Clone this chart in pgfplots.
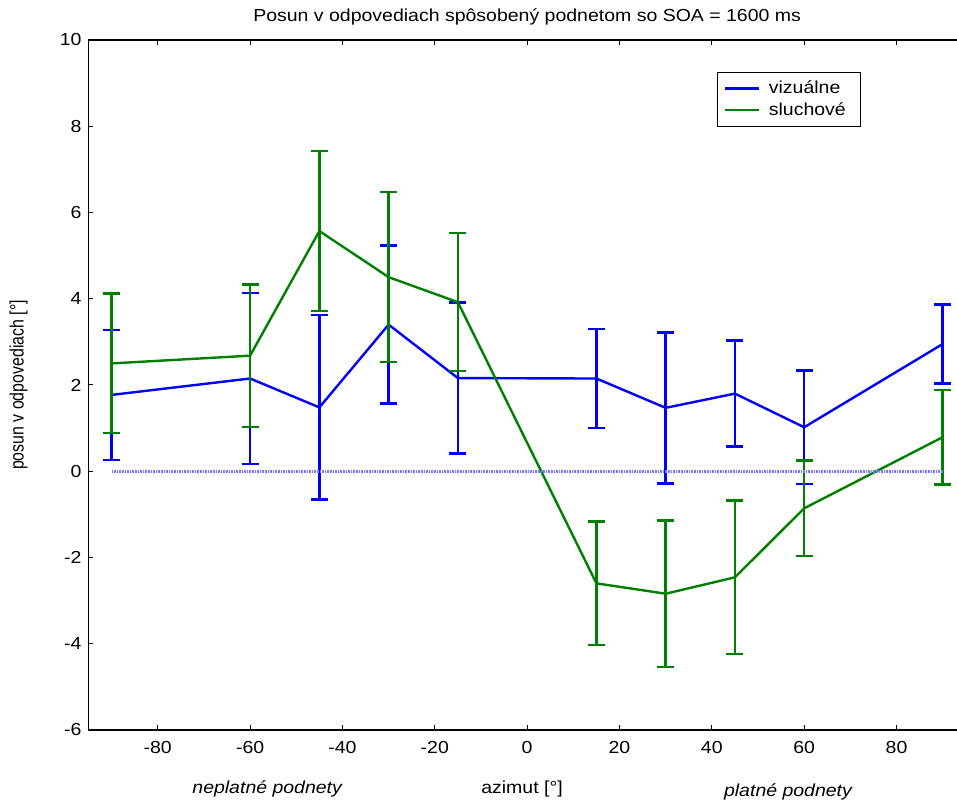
\documentclass[border=0pt]{standalone}
\usepackage{fontspec}
\setmainfont{Liberation Sans}[FakeStretch=1.12]
\newfontfamily\ylabfont{Liberation Sans}[FakeStretch=0.82]
\usepackage{pgfplots}
\usepackage{pgfplotstable}
\pgfplotsset{compat=1.18}
\definecolor{mblue}{RGB}{0,0,255}
\definecolor{mgreen}{RGB}{0,128,0}
\definecolor{zline}{RGB}{120,120,255}

\pgfplotstableread{
x y e
-90 1.77 1.51
-60 2.15 1.98
-45 1.48 2.14
-30 3.40 1.83
-15 2.16 1.75
15 2.15 1.15
30 1.47 1.75
45 1.80 1.23
60 1.02 1.32
90 2.95 0.92
}\bluedata

\pgfplotstableread{
x y e
-90 2.50 1.62
-60 2.68 1.65
-45 5.57 1.86
-30 4.50 1.97
-15 3.92 1.60
15 -2.60 1.43
30 -2.84 1.70
45 -2.46 1.78
60 -0.86 1.11
90 0.79 1.10
}\greendata

\begin{document}
\begin{tikzpicture}[font=\fontsize{8.7}{10}\selectfont]
\begin{axis}[name=ax, scale only axis, width=434.25pt, height=345pt,
  xmin=-95, xmax=93.1, ymin=-6, ymax=10,
  axis y line*=left,
  xtick={-80,-60,...,80}, ytick={-6,-4,...,10},
  tick align=inside, major tick length=2.5pt,
  tick style={black, line width=0.5pt},
  axis line style={line width=0.8pt},
  /pgf/number format/assume math mode=true,
  tick label style={font=\fontsize{8.7}{10}\selectfont},
  xticklabel style={yshift=-2pt},
  legend style={at={(axis cs:41.1,9.26)}, anchor=north west, draw=black, line width=0.6pt,
    font=\fontsize{8.7}{10}\selectfont, inner xsep=3pt, inner ysep=2pt, row sep=-1pt,
    nodes={inner xsep=4.5pt}},
  legend cell align=left,
  legend image code/.code={\draw[#1, line width=1.2pt] (0pt,0pt) -- (17pt,0pt);},
  clip=false,
]
\addplot[mblue, line width=1.2pt,
  error bars/.cd, y dir=both, y explicit,
  error bar style={line width=1.2pt, mblue},
  error mark options={rotate=90, mark size=4.25pt, line width=1.2pt, mblue}]
  table[x=x, y=y, y error=e] {\bluedata};
\addlegendentry{vizuálne}
\addplot[mgreen, line width=1.2pt,
  error bars/.cd, y dir=both, y explicit,
  error bar style={line width=1.2pt, mgreen},
  error mark options={rotate=90, mark size=4.25pt, line width=1.2pt, mgreen}]
  table[x=x, y=y, y error=e] {\greendata};
\addlegendentry{sluchové}
\addplot[zline, line width=1.3pt, dash pattern=on 0.8pt off 0.5pt, forget plot] coordinates {(-90,0) (90,0)};

\coordinate (sw) at (rel axis cs:0,0);
\coordinate (ne) at (rel axis cs:1,1);
\node[anchor=base] at ([yshift=9pt]axis cs:0,10) {Posun v odpovediach spôsobený podnetom so SOA = 1600 ms};
\node[rotate=90, anchor=center, font=\fontsize{9.7}{10}\selectfont\ylabfont] at ([xshift=-35pt]rel axis cs:0,0.5) {posun v odpovediach [°]};
\node[anchor=base] at ([yshift=-32pt]axis cs:-1.1,-6) {azimut [°]};
\node[anchor=base, font=\fontsize{8.7}{10}\selectfont\itshape] at ([yshift=-32pt]axis cs:-56.3,-6) {neplatné podnety};
\node[anchor=base, font=\fontsize{8.7}{10}\selectfont\itshape] at ([yshift=-33.5pt]axis cs:56.5,-6) {platné podnety};
\end{axis}
\pgfresetboundingbox
\path ([xshift=-44.25pt,yshift=-36pt]sw) rectangle ([yshift=20pt]ne);
\end{tikzpicture}
\end{document}
